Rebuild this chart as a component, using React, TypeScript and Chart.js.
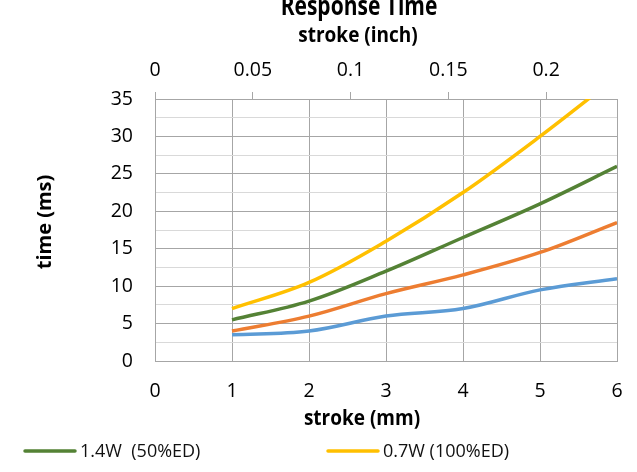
import React, { useEffect, useRef } from "react";
import { Chart, registerables } from "chart.js";

Chart.register(...registerables);

// ---- data ----
const strokeMm = [1, 2, 3, 4, 5, 6];
const green14W = [5.5, 8, 12, 16.5, 21, 26];
const yellow07W = [7, 10.5, 16, 22.5, 30, 38];
const orangeSeries = [4, 6, 9, 11.5, 14.5, 18.5];
const blueSeries = [3.5, 4, 6, 7, 9.5, 11];
const seriesLabels = ["1.4W  (50%ED)", "0.7W (100%ED)", "Series 3", "Series 4"];
const seriesColors = ["#548235", "#FFC000", "#ED7D31", "#5B9BD5"];
const legendShown = [0, 1];

const chartTitle = "Response Time";
const topAxisTitle = "stroke (inch)";
const bottomAxisTitle = "stroke (mm)";
const yAxisTitle = "time (ms)";

const mmMin = 0;
const mmMax = 6;
const mmStep = 1;
const inchPerMm = 1 / 25.4;
const inchStep = 0.05;
const timeMin = 0;
const timeMax = 35;
const timeGridStep = 2.5;
const timeLabelStep = 5;

const FONT = '"Open Sans", "Noto Sans", sans-serif';

const toPoints = (ys: number[]) => strokeMm.map((x, i) => ({ x, y: ys[i] }));

const decorPlugin = {
  id: "decor",
  afterDraw(chart: any) {
    const ctx = chart.ctx as CanvasRenderingContext2D;
    ctx.save();
    ctx.fillStyle = "#000";
    ctx.textAlign = "center";
    ctx.textBaseline = "alphabetic";

    // main title (top cut off as in reference)
    ctx.save();
    ctx.translate(359, 15);
    ctx.scale(1, 1.3);
    ctx.font = `bold 21px ${FONT}`;
    ctx.fillText(chartTitle, 0, 0);
    ctx.restore();

    // top axis title
    ctx.save();
    ctx.translate(358, 42);
    ctx.scale(1, 1.1);
    ctx.font = `bold 19px ${FONT}`;
    ctx.fillText(topAxisTitle, 0, 0);
    ctx.restore();

    // bottom axis title
    ctx.save();
    ctx.translate(362, 425);
    ctx.scale(1, 1.1);
    ctx.font = `bold 19px ${FONT}`;
    ctx.fillText(bottomAxisTitle, 0, 0);
    ctx.restore();

    // y axis title
    ctx.save();
    ctx.translate(45, 222);
    ctx.rotate(-Math.PI / 2);
    ctx.textBaseline = "middle";
    ctx.font = `bold 20px ${FONT}`;
    ctx.fillText(yAxisTitle, 0, 0);
    ctx.restore();

    // legend (first row)
    const legendX = [25, 328];
    ctx.font = `18px ${FONT}`;
    ctx.textAlign = "left";
    legendShown.forEach((di, k) => {
      const ds = chart.data.datasets[di];
      const x0 = legendX[k];
      ctx.strokeStyle = ds.borderColor;
      ctx.lineWidth = 3.5;
      ctx.lineCap = "round";
      ctx.beginPath();
      ctx.moveTo(x0, 451);
      ctx.lineTo(x0 + 50, 451);
      ctx.stroke();
      ctx.fillStyle = "#111";
      ctx.fillText(ds.label, x0 + 55, 457);
    });
    ctx.restore();
  },
};

export default function App() {
  const ref = useRef<HTMLCanvasElement | null>(null);

  useEffect(() => {
    if (!ref.current) return;
    const datasets = [green14W, yellow07W, orangeSeries, blueSeries].map((ys, i) => ({
      label: seriesLabels[i],
      data: toPoints(ys),
      borderColor: seriesColors[i],
      backgroundColor: seriesColors[i],
      borderWidth: 3.5,
      pointRadius: 0,
      pointHoverRadius: 0,
      tension: 0.35,
      fill: false,
      xAxisID: "x",
      yAxisID: "y",
    }));

    const tickFont = { family: FONT, size: 19.5 };
    const chart = new Chart(ref.current, {
      type: "line",
      data: { datasets },
      plugins: [decorPlugin],
      options: {
        animation: false,
        responsive: true,
        maintainAspectRatio: false,
        events: [],
        layout: { padding: { left: 0, right: 20, top: 0, bottom: 51 } },
        plugins: {
          legend: { display: false },
          title: { display: false },
          tooltip: { enabled: false },
        },
        scales: {
          x: {
            type: "linear",
            position: "bottom",
            min: mmMin,
            max: mmMax,
            afterFit: (s: any) => {
              s.height = 60;
            },
            ticks: {
              stepSize: mmStep,
              autoSkip: false,
              maxRotation: 0,
              padding: 0,
              color: "#000",
              font: tickFont,
            },
            grid: {
              color: "#a6a6a6",
              lineWidth: 1,
              drawTicks: true,
              tickLength: 19,
              tickColor: "rgba(0,0,0,0)",
            },
            border: { color: "#a6a6a6", width: 1 },
          },
          x2: {
            type: "linear",
            position: "top",
            min: mmMin * inchPerMm,
            max: mmMax * inchPerMm,
            afterFit: (s: any) => {
              s.height = 99;
            },
            ticks: {
              stepSize: inchStep,
              includeBounds: false,
              autoSkip: false,
              maxRotation: 0,
              padding: 10,
              color: "#000",
              font: tickFont,
              callback: (v: any) => String(Math.round(Number(v) * 100) / 100),
            },
            grid: {
              drawOnChartArea: false,
              drawTicks: true,
              tickLength: 7,
              color: "#a6a6a6",
              lineWidth: 1,
            },
            border: { color: "#a6a6a6", width: 1 },
          },
          y: {
            type: "linear",
            position: "left",
            min: timeMin,
            max: timeMax,
            afterFit: (s: any) => {
              s.width = 155;
            },
            ticks: {
              stepSize: timeGridStep,
              autoSkip: false,
              padding: 22,
              color: "#000",
              font: tickFont,
              callback: (v: any) => (Number(v) % timeLabelStep === 0 ? String(v) : ""),
            },
            grid: {
              drawTicks: false,
              lineWidth: 1,
              color: (c: any) =>
                c.tick && c.tick.value % timeLabelStep === 0 ? "#a6a6a6" : "#d9d9d9",
            },
            border: { color: "#a6a6a6", width: 1 },
          },
        },
      } as any,
    });
    return () => chart.destroy();
  }, []);

  return (
    <div
      style={{
        position: "fixed",
        left: 0,
        top: 0,
        width: 637,
        height: 472,
        background: "#fff",
      }}
    >
      <canvas ref={ref} />
    </div>
  );
}
